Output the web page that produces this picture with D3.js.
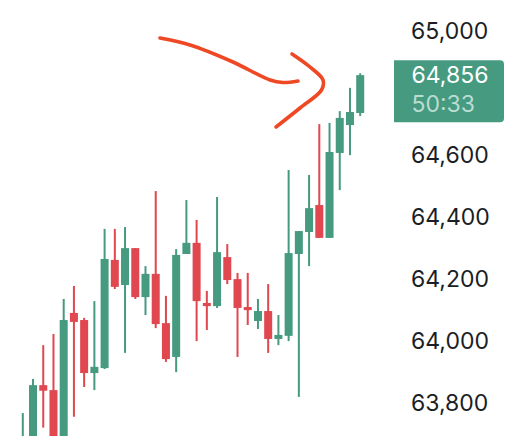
<!DOCTYPE html>
<html>
<head>
<meta charset="utf-8">
<script src="https://cdn.jsdelivr.net/npm/d3@7"></script>
<style>
  html, body { margin: 0; padding: 0; background: #ffffff; overflow: hidden; }
  svg { display: block; }
</style>
</head>
<body>
<script>
// candle values (oldest -> newest)
const opens  = [63660, 63690, 63856, 63840, 63655, 64089, 64066, 63895, 63911, 64260,
                64179, 64298, 64140, 64215, 64056, 63947, 64279, 64315, 64121, 64111,
                64269, 64198, 64108, 64063, 64095, 64005, 64015, 64279, 64350, 64437,
                64331, 64605, 64695, 64734];
const highs  = [63766, 63876, 63985, 64021, 64134, 64176, 64073, 64127, 64360, 64360,
                64366, 64298, 64240, 64482, 64144, 64295, 64453, 64389, 64160, 64463,
                64311, 64218, 64218, 64134, 64182, 64082, 64550, 64353, 64534, 64698,
                64702, 64740, 64815, 64862];
const lows   = [63645, 63670, 63719, 63630, 63640, 63754, 63850, 63840, 63908, 64166,
                63960, 64134, 64082, 64040, 63931, 63898, 64279, 63998, 64034, 64105,
                64182, 63947, 64050, 64037, 63960, 63985, 63998, 63818, 64240, 64331,
                64331, 64485, 64598, 64724];
const closes = [63690, 63856, 63838, 63650, 64066, 64060, 63895, 63915, 64263, 64173,
                64298, 64140, 64215, 64053, 63940, 64276, 64315, 64127, 64111, 64285,
                64195, 64105, 64098, 64095, 64005, 64018, 64282, 64353, 64427, 64331,
                64608, 64718, 64737, 64856];

const tickValues = [63800, 64000, 64200, 64400, 64600, 64800, 65000];
const countdown = "50:33";

// hand-drawn annotation strokes
const arrowStroke1 = [[160, 38], [190, 45], [233, 62], [270, 80], [283, 82.5], [298, 81]];
const arrowStroke2 = [[292, 54], [310, 67], [323, 80], [321.5, 90], [300, 108], [276, 127]];

const width = 524;
const height = 436;
const up = "#469a80";
const down = "#e0474f";
const textColor = "#1b1e25";

const candles = opens.map((o, i) => ({
  i: i, open: o, high: highs[i], low: lows[i], close: closes[i]
}));

const svg = d3.select("body")
  .append("svg")
  .attr("width", width)
  .attr("height", height);

const x = d3.scaleLinear()
  .domain([0, candles.length - 1])
  .range([22.8, 360.2]);

const y = d3.scaleLinear()
  .domain([63800, 65000])
  .range([402.5, 30.5]);

const bodyWidth = 8;
const wickWidth = 2;

// candles
const g = svg.append("g");
const c = g.selectAll("g.candle")
  .data(candles)
  .enter()
  .append("g")
  .attr("class", "candle")
  .attr("fill", d => d.close >= d.open ? up : down);

c.append("rect")
  .attr("x", d => x(d.i) - wickWidth / 2)
  .attr("y", d => y(d.high))
  .attr("width", wickWidth)
  .attr("height", d => Math.max(1, y(d.low) - y(d.high)));

c.append("rect")
  .attr("x", d => x(d.i) - bodyWidth / 2)
  .attr("y", d => y(Math.max(d.open, d.close)))
  .attr("width", bodyWidth)
  .attr("height", d => Math.max(3, Math.abs(y(d.open) - y(d.close))));

// price scale labels
const fmt = d3.format(",.0f");
const last = candles[candles.length - 1];
const lastY = y(last.close);
const boxTop = lastY - 15;
const boxH = 62;

svg.append("g")
  .selectAll("text")
  .data(tickValues.filter(v => y(v) < boxTop - 10 || y(v) > boxTop + boxH + 10))
  .enter()
  .append("text")
  .attr("x", 411)
  .attr("y", d => y(d))
  .attr("dy", "0.36em")
  .attr("fill", textColor)
  .style("font-family", "Inter, 'Noto Sans', sans-serif")
  .style("font-size", "23px")
  .text(d => fmt(d));

// last price label
const bx0 = 394, bx1 = 504, r = 4;
svg.append("path")
  .attr("d", `M${bx0},${boxTop} H${bx1 - r} Q${bx1},${boxTop} ${bx1},${boxTop + r}
    V${boxTop + boxH - r} Q${bx1},${boxTop + boxH} ${bx1 - r},${boxTop + boxH} H${bx0} Z`)
  .attr("fill", up);

svg.append("text")
  .attr("x", 411.5)
  .attr("y", lastY)
  .attr("dy", "0.36em")
  .attr("fill", "#ffffff")
  .style("font-family", "Inter, 'Noto Sans', sans-serif")
  .style("font-size", "23px")
  .text(fmt(last.close));

svg.append("text")
  .attr("x", 411.5)
  .attr("y", lastY + 29)
  .attr("dy", "0.36em")
  .attr("fill", "#b9ddd1")
  .style("font-family", "Inter, 'Noto Sans', sans-serif")
  .style("font-size", "23px")
  .text(countdown);

// annotation arrow
const line = d3.line().curve(d3.curveCatmullRom);
svg.append("g")
  .selectAll("path")
  .data([arrowStroke1, arrowStroke2])
  .enter()
  .append("path")
  .attr("d", line)
  .attr("fill", "none")
  .attr("stroke", "#ef4824")
  .attr("stroke-width", 3.6)
  .attr("stroke-linecap", "round")
  .attr("stroke-linejoin", "round");
</script>
</body>
</html>
